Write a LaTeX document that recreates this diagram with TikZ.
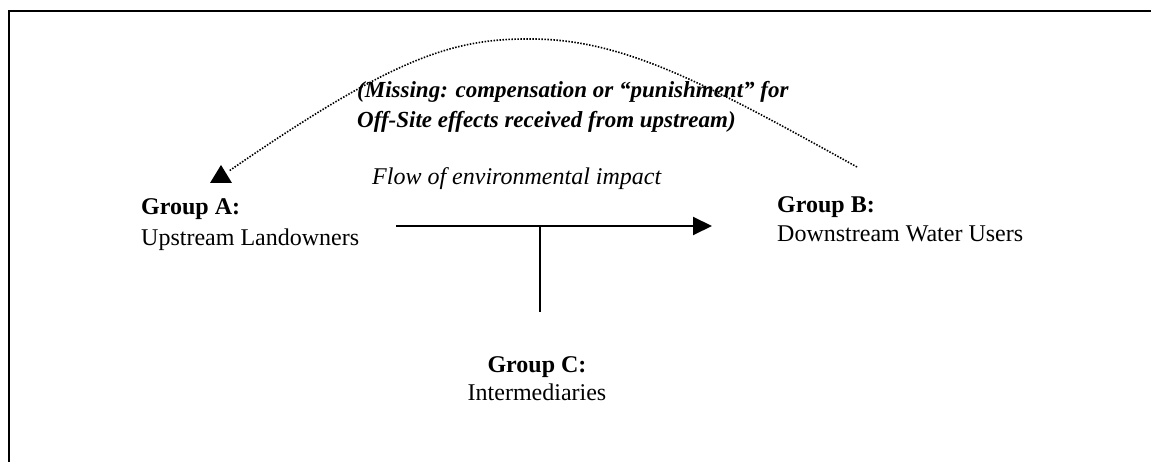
\documentclass[tikz,border=0pt]{standalone}
\usepackage{fontspec}
\setmainfont{Liberation Serif}
\usetikzlibrary{arrows.meta}
\begin{document}
\begin{tikzpicture}[x=1pt,y=-1pt,
  lbl/.style={inner sep=0pt,anchor=base west,font=\fontsize{24}{30}\selectfont},
  framestyle/.style={line width=2.2pt},
  solidline/.style={line width=2pt},
  dottedline/.style={line width=1.6pt,dash pattern=on 1.5pt off 1.5pt}]
\useasboundingbox (0,0) rectangle (1151,462);
% frame (only top and left edges visible)
\draw[framestyle] (9,462) -- (9,11) -- (1151,11);
% nodes (base anchor = baseline of last line)
\node[lbl,align=left,font=\fontsize{24}{31}\selectfont] (A) at (141,246) {\textbf{Group A:}\\Upstream Landowners};
\node[lbl,align=left,font=\fontsize{24}{29}\selectfont] (B) at (777,242) {\textbf{Group B:}\\Downstream Water Users};
\node[lbl,align=center,anchor=base,font=\fontsize{24}{28}\selectfont] (C) at (537,400) {\textbf{Group C:}\\Intermediaries};
\node[lbl] (flow) at (372,185) {\itshape Flow of environmental impact};
\node[lbl,align=left,font=\fontsize{23}{30}\selectfont\bfseries\itshape] (miss) at (357,128)
  {(Missing: compensation or “punishment” for\\Off-Site effects received from upstream)};
% connectors
\coordinate (fs) at (396,226);
\coordinate (fe) at (712,226);
\coordinate (jn) at (540,226);
\coordinate (cs) at (540,312);
\draw[solidline,-{Triangle[length=19pt,width=18pt]}] (fs) -- (fe);
\draw[solidline] (jn) -- (cs);
% dotted return curve from B to A
\coordinate (ds) at (857,167);
\coordinate (pk) at (527,39);
\coordinate (de) at (229,171);
\draw[dottedline] (ds) .. controls (700,80) and (620,38) .. (pk)
  .. controls (450,39) and (390,60) .. (de);
\fill (221,165) -- (232,183) -- (210,183) -- cycle;
\end{tikzpicture}
\end{document}
